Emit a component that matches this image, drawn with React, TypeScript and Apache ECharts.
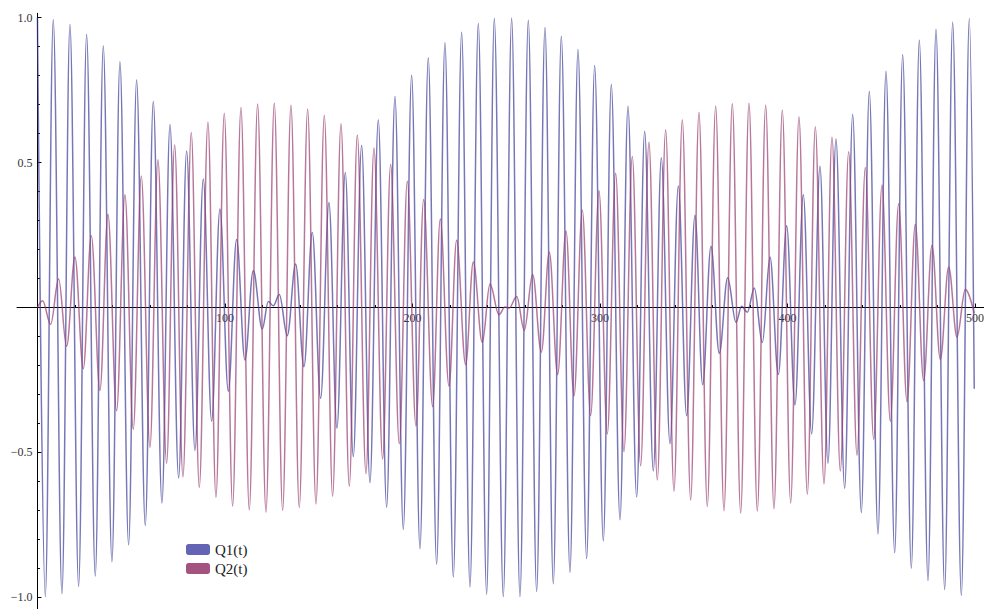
import React, { useEffect, useRef } from "react";
import * as echarts from "echarts";

// Q1(t): extrema (and end points)
const q1T = [0, 4.18, 8.44, 13.07, 17.33, 21.96, 26.22, 30.84, 35.11, 39.73,
  44.0, 48.62, 52.89, 57.51, 61.78, 66.4, 70.67, 75.29, 79.56, 84.0,
  88.44, 92.89, 97.33, 101.78, 106.22, 110.67, 115.11, 119.91, 123.11, 125.78,
  128.98, 133.24, 137.69, 142.13, 146.58, 151.02, 155.47, 159.73, 164.18, 168.44,
  172.89, 177.33, 181.78, 186.22, 190.67, 195.11, 199.56, 204.0, 208.44, 212.89,
  217.33, 221.78, 226.22, 230.67, 235.11, 239.56, 243.64, 248.44, 252.89, 257.33,
  261.78, 266.22, 270.67, 275.11, 279.38, 284.0, 288.27, 292.89, 297.16, 301.78,
  306.04, 310.67, 314.93, 319.56, 323.82, 328.44, 332.71, 337.33, 341.78, 346.22,
  350.67, 354.76, 359.2, 363.64, 368.09, 372.53, 375.56, 378.58, 382.31, 386.58,
  390.67, 395.11, 399.56, 404.0, 408.44, 412.89, 417.33, 421.6, 425.87, 430.49,
  434.76, 439.38, 443.64, 448.27, 452.53, 457.16, 461.42, 466.04, 470.31, 474.93,
  479.2, 483.82, 488.09, 492.71, 496.98, 499.6];
const q1V = [1.0, -0.997, 0.993, -0.987, 0.976, -0.962, 0.942, -0.926, 0.902, -0.877,
  0.848, -0.819, 0.785, -0.752, 0.711, -0.674, 0.631, -0.588, 0.540, -0.493,
  0.443, -0.392, 0.340, -0.289, 0.235, -0.181, 0.128, -0.074, 0.021, 0.006,
  0.045, -0.097, 0.150, -0.204, 0.259, -0.313, 0.362, -0.416, 0.466, -0.514,
  0.560, -0.604, 0.648, -0.689, 0.728, -0.765, 0.801, -0.832, 0.862, -0.886,
  0.913, -0.930, 0.950, -0.964, 0.980, -0.989, 0.997, -0.997, 0.998, -0.997,
  0.991, -0.980, 0.966, -0.953, 0.936, -0.913, 0.890, -0.866, 0.835, -0.805,
  0.769, -0.732, 0.694, -0.654, 0.608, -0.564, 0.517, -0.470, 0.419, -0.373,
  0.318, -0.266, 0.211, -0.158, 0.103, -0.051, 0.004, -0.016, 0.067, -0.121,
  0.174, -0.231, 0.282, -0.336, 0.389, -0.436, 0.487, -0.537, 0.581, -0.624,
  0.667, -0.707, 0.745, -0.781, 0.815, -0.846, 0.872, -0.899, 0.922, -0.942,
  0.960, -0.973, 0.984, -0.993, 0.997, -0.28];

// Q2(t): extrema (and end points)
const q2T = [0, 2.76, 7.02, 11.29, 15.56, 20.0, 24.44, 28.71, 33.33, 37.6,
  42.22, 46.67, 51.11, 55.38, 60.0, 64.27, 68.89, 73.16, 77.6, 82.04,
  86.31, 90.93, 95.2, 99.64, 104.09, 108.53, 112.98, 117.42, 121.87, 126.31,
  130.76, 135.2, 139.64, 144.09, 148.53, 152.98, 157.42, 161.87, 166.31, 170.58,
  175.2, 179.47, 184.09, 188.36, 192.98, 197.24, 201.87, 205.96, 210.76, 214.84,
  219.47, 223.56, 228.36, 232.44, 237.24, 241.33, 246.13, 249.3, 251.6, 255.56,
  259.64, 264.09, 268.71, 272.98, 277.42, 281.87, 286.13, 290.58, 295.02, 299.47,
  303.91, 308.36, 312.8, 317.24, 321.69, 326.13, 330.58, 335.02, 339.47, 343.91,
  348.36, 352.8, 357.24, 361.69, 366.13, 370.58, 375.02, 379.47, 383.91, 388.36,
  392.8, 397.24, 401.69, 406.13, 410.58, 414.84, 419.47, 423.73, 428.18, 432.62,
  437.07, 441.51, 445.96, 450.4, 454.84, 459.29, 463.73, 468.18, 472.62, 477.07,
  481.51, 485.96, 490.4, 494.84, 499.6];
const q2V = [0, 0.023, -0.058, 0.098, -0.134, 0.174, -0.211, 0.248, -0.286, 0.322,
  -0.356, 0.389, -0.420, 0.454, -0.483, 0.510, -0.537, 0.561, -0.584, 0.604,
  -0.621, 0.640, -0.655, 0.670, -0.685, 0.690, -0.698, 0.702, -0.706, 0.705,
  -0.700, 0.698, -0.690, 0.685, -0.678, 0.663, -0.651, 0.634, -0.617, 0.595,
  -0.573, 0.550, -0.523, 0.494, -0.470, 0.436, -0.409, 0.373, -0.342, 0.305,
  -0.271, 0.232, -0.197, 0.157, -0.121, 0.081, -0.025, 0.002, -0.002, 0.038,
  -0.078, 0.114, -0.154, 0.191, -0.231, 0.264, -0.305, 0.336, -0.373, 0.403,
  -0.436, 0.463, -0.497, 0.521, -0.546, 0.570, -0.595, 0.613, -0.634, 0.648,
  -0.664, 0.674, -0.687, 0.695, -0.701, 0.703, -0.709, 0.705, -0.702, 0.698,
  -0.694, 0.681, -0.674, 0.658, -0.644, 0.624, -0.608, 0.587, -0.564, 0.537,
  -0.510, 0.483, -0.454, 0.423, -0.392, 0.358, -0.325, 0.287, -0.252, 0.215,
  -0.179, 0.140, -0.102, 0.063, -0.02];

const seriesNames = ["Q1(t)", "Q2(t)"];

const xMajorTicks = [100, 200, 300, 400, 500];
const xTickLabels = ["100", "200", "300", "400", "500"];
const xMinorTicks = [20, 40, 60, 80, 120, 140, 160, 180, 220, 240, 260, 280, 320, 340, 360, 380, 420, 440, 460, 480];

const yMajorTicks = [-1, -0.5, 0, 0.5, 1];
const yLabelValues = [-1, -0.5, 0.5, 1];
const yTickLabels = ["\u22121.0", "\u22120.5", "0.5", "1.0"];
const yMinorTicks = [-0.9, -0.8, -0.7, -0.6, -0.4, -0.3, -0.2, -0.1, 0.1, 0.2, 0.3, 0.4, 0.6, 0.7, 0.8, 0.9];

const X_MIN = -10.9;
const X_MAX = 504.8;
const Y_MIN = -1.04;
const Y_MAX = 1.015;

const FONT = "Liberation Serif";
const WIDTH = 984;
const HEIGHT = 609;
const GRID_LEFT = 17;
const GRID_TOP = 13.3;

export default function App() {
  const ref = useRef<HTMLDivElement>(null);

  useEffect(() => {
    if (!ref.current) return;
    const chart = echarts.init(ref.current, undefined, { renderer: "svg" });
    const tickStyle = { color: "#000", width: 1 };
    const labelStyle = { fontFamily: FONT, fontSize: 12, color: "#333" };

    // axes cross at the data origin (0, 0): shift them from the grid edges
    const plotW = WIDTH - GRID_LEFT;
    const plotH = HEIGHT - GRID_TOP;
    const yAxisOffset = -((0 - X_MIN) / (X_MAX - X_MIN)) * plotW;
    const xAxisOffset = -((0 - Y_MIN) / (Y_MAX - Y_MIN)) * plotH;

    const option: any = {
      animation: false,
      backgroundColor: "#ffffff",
      grid: {
        left: GRID_LEFT, right: 0, top: GRID_TOP, bottom: 0,
        containLabel: false, outerBoundsMode: "none",
      },
      xAxis: [
        {
          type: "value", min: X_MIN, max: X_MAX, position: "bottom", offset: xAxisOffset,
          axisLine: { show: true, onZero: false, lineStyle: { color: "#000", width: 1 } },
          axisTick: { show: true, inside: true, length: 4, customValues: xMajorTicks, lineStyle: tickStyle },
          axisLabel: {
            show: true, customValues: xMajorTicks, margin: 4, ...labelStyle,
            formatter: (v: number) => {
              const i = xMajorTicks.indexOf(Math.round(v));
              return i >= 0 ? xTickLabels[i] : "";
            },
          },
          splitLine: { show: false },
        },
        {
          type: "value", min: X_MIN, max: X_MAX, position: "bottom", offset: xAxisOffset,
          axisLine: { show: false, onZero: false },
          axisTick: { show: true, inside: true, length: 2.5, customValues: xMinorTicks, lineStyle: tickStyle },
          axisLabel: { show: false },
          splitLine: { show: false },
        },
      ],
      yAxis: [
        {
          type: "value", min: Y_MIN, max: Y_MAX, position: "left", offset: yAxisOffset,
          axisLine: { show: true, onZero: false, lineStyle: { color: "#000", width: 1 } },
          axisTick: { show: true, inside: true, length: 4, customValues: yMajorTicks, lineStyle: tickStyle },
          axisLabel: {
            show: true, customValues: yLabelValues, margin: 5, ...labelStyle,
            formatter: (v: number) => {
              const i = yLabelValues.findIndex((u) => Math.abs(u - v) < 1e-6);
              return i >= 0 ? yTickLabels[i] : "";
            },
          },
          splitLine: { show: false },
        },
        {
          type: "value", min: Y_MIN, max: Y_MAX, position: "left", offset: yAxisOffset,
          axisLine: { show: false, onZero: false },
          axisTick: { show: true, inside: true, length: 2.5, customValues: yMinorTicks, lineStyle: tickStyle },
          axisLabel: { show: false },
          splitLine: { show: false },
        },
      ],
      legend: {
        orient: "vertical",
        left: 181,
        top: 537,
        icon: "roundRect",
        itemWidth: 24,
        itemHeight: 11,
        itemGap: 4,
        selectedMode: false,
        textStyle: { fontFamily: FONT, fontSize: 15, color: "#222", padding: [0, 0, 0, 0] },
        data: [
          { name: seriesNames[0], itemStyle: { color: "#6464b4", borderWidth: 0 } },
          { name: seriesNames[1], itemStyle: { color: "#a4527f", borderWidth: 0 } },
        ],
      },
      series: [
        {
          type: "line", name: seriesNames[0], xAxisIndex: 0, yAxisIndex: 0,
          data: q1T.map((t, i) => [t, q1V[i]]),
          smooth: 0.36, smoothMonotone: "x",
          symbol: "none", showSymbol: false, silent: true,
          itemStyle: { color: "#6464b4" },
          lineStyle: { color: "#3d3d99", width: 1.5, opacity: 0.7 },
        },
        {
          type: "line", name: seriesNames[1], xAxisIndex: 0, yAxisIndex: 0,
          data: q2T.map((t, i) => [t, q2V[i]]),
          smooth: 0.36, smoothMonotone: "x",
          symbol: "none", showSymbol: false, silent: true,
          itemStyle: { color: "#a4527f" },
          lineStyle: { color: "#993d71", width: 1.5, opacity: 0.7 },
        },
      ],
    };
    chart.setOption(option);
    return () => chart.dispose();
  }, []);

  return (
    <div
      ref={ref}
      style={{ position: "fixed", left: 0, top: 0, width: WIDTH, height: HEIGHT, background: "#fff" }}
    />
  );
}
